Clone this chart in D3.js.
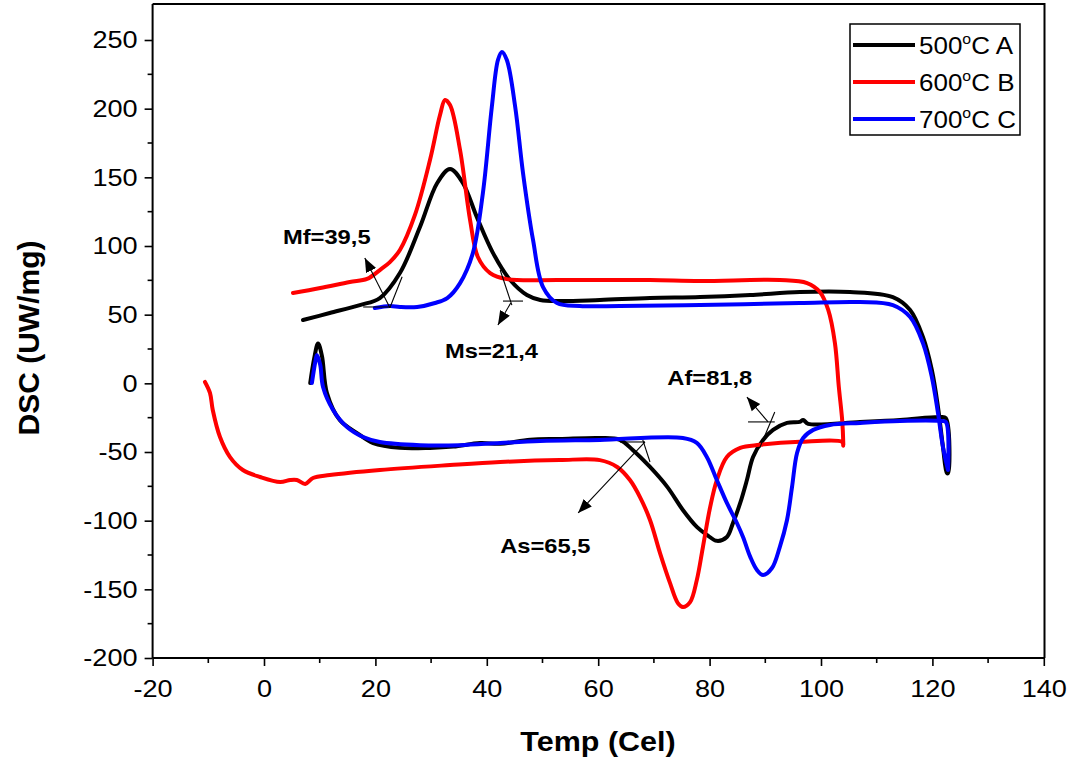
<!DOCTYPE html>
<html><head><meta charset="utf-8">
<script src="https://cdn.jsdelivr.net/npm/d3@7"></script>
<style>body{margin:0;background:#fff}svg{display:block}text{font-family:"Liberation Sans",Arial,sans-serif}</style>
</head><body>
<svg id="c" width="1076" height="767"></svg>
<script>
// ---- data: [Temp (Cel), DSC (UW/mg)] ----
const seriesNames = ["500", "600", "700"];
const seriesSuffix = ["A", "B", "C"];
const seriesColors = ["#000000", "#ff0000", "#0000ff"];

// 500°C A : heating branch (low temperature -> high)
const heat500 = [[8.3,0.2],[9.0,18],[9.7,29],[10.4,20],[11.3,-7.1],[13.6,-26.7],[16.7,-36.2],[19.6,-43.5],[24.4,-47],[29.8,-47],[34,-46],[38.8,-43.5],[42.4,-44],[47.8,-41],[53.1,-40.5],[60.3,-39.8],[63.9,-41.1],[66.2,-48.5],[69.3,-60.9],[72.4,-75.4],[75.2,-92.2],[77.7,-104.5],[79.5,-110.3],[81.3,-114.7],[83.1,-111.9],[84.2,-101.7],[85.5,-87.1],[86.7,-70.4],[87.8,-53.6],[89.6,-41.2],[91.4,-33.9],[93.9,-28.8],[96.2,-28.1],[96.8,-26.7],[97.7,-29.5],[107,-28.1],[114.2,-26.7],[121.4,-24.5],[122.4,-25.3],[122.8,-65.3]];
// 500°C A : cooling branch (listed low temperature -> high)
const cool500 = [[7,46.1],[11.8,51.2],[17.2,57],[20.8,62.1],[24.4,80.3],[28,113.8],[31.1,145.9],[33.4,156.1],[35.7,145.9],[38.2,121.2],[41.1,95],[44.2,75.2],[47.2,64.3],[49.6,60.7],[53.1,59.9],[60.3,60.7],[69.3,62.1],[78.3,62.8],[87.3,64.3],[96.2,66.5],[105.2,66.5],[112.9,62.8],[116,53.4],[118.3,33.7],[119.9,9.7],[121,-17.2],[121.9,-46.4],[122.6,-65.3]];

// 600°C B
const heat600 = [[-10.6,1],[-9.7,-7],[-9.2,-19.4],[-7.9,-39.1],[-6.1,-53.7],[-3.8,-63.1],[-0.7,-68.2],[2.9,-71.9],[4.7,-70.4],[5.9,-70.4],[7.4,-73.3],[8.8,-68.9],[11.8,-66.8],[20.8,-63.1],[33.4,-59.5],[42.4,-57.3],[53.1,-55.9],[60.3,-55.9],[63.4,-60.9],[65.7,-70.4],[67.5,-82.8],[69.3,-99.5],[71.1,-123.6],[72.9,-145.5],[74.3,-160],[75.2,-162.9],[76.5,-159.3],[77.7,-143.3],[78.8,-119.2],[80.1,-90.1],[81.3,-70.4],[83.1,-53.6],[85.5,-47],[89,-44.8],[96.2,-42.6],[103.8,-42.6],[104,-45.4]];
const cool600 = [[5.2,65.8],[10.1,69.4],[15.4,73.8],[18.5,76],[20.8,82.5],[22.6,88.3],[24.4,97.1],[27.1,122.6],[29.8,162.6],[31.6,195.4],[32.5,206.3],[33.4,202.7],[35.2,169.9],[37,118.9],[38.4,92],[40.6,80.3],[43.6,75.9],[53.1,75.2],[69.3,75.2],[78.3,74.5],[92.6,75.2],[97.5,73],[99.8,66.5],[101.3,53.4],[102.5,29.3],[103.2,-2.6],[103.8,-26.7],[104,-43.4]];

// 700°C C
const heat700 = [[8.6,0.2],[9.2,15.5],[9.5,20.6],[10.1,13.3],[10.6,-2.7],[12.4,-19.4],[14.9,-31.8],[17.8,-39.1],[20.8,-42.7],[28,-45],[35.2,-45],[42.4,-43.4],[49.6,-42],[60.3,-41.2],[75.2,-39.8],[77.7,-43.4],[79.5,-53.6],[81.3,-70.4],[83.1,-87.1],[84.9,-101.7],[86,-111.9],[87.3,-126.4],[88.5,-135.9],[89.6,-139.6],[91.2,-134.5],[92.6,-119.2],[93.9,-99.5],[94.8,-75.4],[95.7,-50.7],[96.8,-39.8],[98.6,-33.9],[101.6,-30.3],[107,-28.8],[114.2,-27.4],[121.4,-27.4],[122.4,-28.1],[122.8,-63.1]];
const cool700 = [[19.9,54.8],[22.6,56.3],[24.4,55.6],[27.5,55.6],[30.7,58.5],[32.9,62.1],[35.2,73],[37.5,94.9],[39.3,138.6],[40.9,201.2],[42,235.4],[42.7,241.3],[43.6,235.4],[45.1,201.2],[46.5,153.2],[48.3,104.4],[50.1,70.1],[52.6,58.5],[56.7,56.3],[63.9,56.3],[78.3,57],[96.2,58.5],[107,59.2],[112.9,57],[116,48.3],[118.3,29.3],[119.9,4.6],[121,-21.6],[121.9,-46.4],[122.8,-63.1]];

const heating = [heat500, heat600, heat700];
const cooling = [cool500, cool600, cool700];

// axis ticks
const xTicks = [-20, 0, 20, 40, 60, 80, 100, 120, 140];
const yTicks = [-200, -150, -100, -50, 0, 50, 100, 150, 200, 250];

// transformation-temperature annotations (data coordinates)
const annLabels = ["Mf=39,5", "Ms=21,4", "Af=81,8", "As=65,5"];
const annLabelPos = [[3.4, 101.5], [32.5, 18.4], [72.4, -1.2], [42.4, -123.6]];
const annArrows = [[[22.6,55],[18.1,91.2]], [[44.3,58.5],[42,42.5]], [[90.5,-28.1],[86.7,-10]], [[68.4,-42.7],[56.4,-94.4]]];
const annTangents = [[[22.6,55],[24.8,77.6]], [[42.4,82.5],[44.5,57]], [[91.7,-20.9],[89,-47]], [[68,-41.2],[69.3,-57.3]]];
const annBaselines = [[[17.8,55.6],[22.6,55.6]], [[42.9,59.9],[46.5,59.9]], [[86.9,-28.1],[91.7,-28.1]], [[63.9,-42.7],[68.4,-42.7]]];

// ---- drawing ----
const SX = 1.13; // horizontal stretch of the original lettering
const svg = d3.select("#c");
const L = 152.6, R = 1044.5, T = 4, B = 658;
const x = d3.scaleLinear().domain([-20, 140]).range([L, 1043.8]);
const y = d3.scaleLinear().domain([-200, 250]).range([B, 40]);
const fmt = d => d < 0 ? "-" + Math.abs(d) : String(d);

// frame top/right
svg.append("path").attr("d", `M${L},${T}H${R}V${B}`).attr("fill", "none").attr("stroke", "#000").attr("stroke-width", 2);

// axes
const xAxis = d3.axisBottom(x).tickValues(xTicks).tickSize(8).tickPadding(14).tickFormat(fmt);
const gx = svg.append("g").attr("transform", `translate(0,${B})`).call(xAxis);
const yAxis = d3.axisLeft(y).tickValues(yTicks).tickSize(8).tickPadding(7).tickFormat(fmt);
const gy = svg.append("g").attr("transform", `translate(${L},0)`).call(yAxis);
[gx, gy].forEach(g => {
  g.select(".domain").remove();
  g.selectAll(".tick line").attr("stroke", "#000").attr("stroke-width", 1.6);
  g.selectAll(".tick text").attr("font-size", 24).attr("fill", "#000").style("font-family", '"Liberation Sans",Arial,sans-serif')
    .attr("transform", `scale(${SX},1)`);
});
gy.selectAll(".tick text").attr("x", -15 / SX);
// minor ticks
const xMinor = d3.range(-10, 140, 20), yMinor = d3.range(-175, 250, 50);
svg.append("g").selectAll("line").data(xMinor).join("line")
  .attr("x1", d => x(d)).attr("x2", d => x(d)).attr("y1", B).attr("y2", B + 5).attr("stroke", "#000").attr("stroke-width", 1.6);
svg.append("g").selectAll("line").data(yMinor).join("line")
  .attr("y1", d => y(d)).attr("y2", d => y(d)).attr("x1", L).attr("x2", L - 5).attr("stroke", "#000").attr("stroke-width", 1.6);
// axis lines
svg.append("line").attr("x1", L).attr("x2", L).attr("y1", T).attr("y2", B).attr("stroke", "#000").attr("stroke-width", 2);
svg.append("line").attr("x1", L).attr("x2", R).attr("y1", B).attr("y2", B).attr("stroke", "#000").attr("stroke-width", 2);

// axis titles
svg.append("text").attr("transform", `translate(598,751) scale(${SX},1)`).attr("text-anchor", "middle").attr("font-size", 27).attr("font-weight", "bold").text("Temp (Cel)");
svg.append("text").attr("transform", "translate(39,338) rotate(-90)").attr("text-anchor", "middle").attr("font-size", 30).attr("font-weight", "bold").text("DSC (UW/mg)");

// curves
const line = d3.line().x(d => x(d[0])).y(d => y(d[1])).curve(d3.curveCatmullRom.alpha(0.5));
svg.append("clipPath").attr("id", "clp").append("rect").attr("x", L).attr("y", T).attr("width", R - L).attr("height", B - T);
seriesNames.forEach((s, i) => {
  const pts = heating[i].concat(cooling[i].slice().reverse());
  svg.append("path").attr("d", line(pts)).attr("fill", "none").attr("stroke", seriesColors[i])
    .attr("stroke-width", 4).attr("stroke-linejoin", "round").attr("stroke-linecap", "round").attr("clip-path", "url(#clp)");
});

// annotations
const defs = svg.append("defs");
defs.append("marker").attr("id", "ah").attr("viewBox", "0 0 10 10").attr("refX", 10).attr("refY", 5)
  .attr("markerWidth", 14).attr("markerHeight", 14).attr("markerUnits", "userSpaceOnUse").attr("orient", "auto")
  .append("path").attr("d", "M0,1 L10,5 L0,9 z").attr("fill", "#000");
const ag = svg.append("g").attr("stroke", "#000").attr("stroke-width", 1.1);
const seg = (g, p, arrow) => g.append("line").attr("x1", x(p[0][0])).attr("y1", y(p[0][1])).attr("x2", x(p[1][0])).attr("y2", y(p[1][1])).attr("marker-end", arrow ? "url(#ah)" : null);
annLabels.forEach((t, i) => {
  seg(ag, annBaselines[i], false);
  seg(ag, annTangents[i], false);
  seg(ag, annArrows[i], true);
  svg.append("text").attr("transform", `translate(${x(annLabelPos[i][0])},${y(annLabelPos[i][1])}) scale(${SX},1)`)
    .attr("font-size", 21).attr("font-weight", "bold").text(t);
});

// legend
const lg = svg.append("g");
lg.append("rect").attr("x", 850).attr("y", 24).attr("width", 170).attr("height", 111).attr("fill", "#fff").attr("stroke", "#000").attr("stroke-width", 1.5);
seriesNames.forEach((s, i) => {
  const cy = 45 + i * 37;
  lg.append("line").attr("x1", 853).attr("x2", 915).attr("y1", cy).attr("y2", cy).attr("stroke", seriesColors[i]).attr("stroke-width", 4);
  const t = lg.append("text").attr("transform", `translate(919,${cy + 8.5}) scale(${SX},1)`).attr("font-size", 23);
  t.append("tspan").text(s);
  t.append("tspan").attr("font-size", 14).attr("dy", -10).text("o");
  t.append("tspan").attr("dy", 10).text("C " + seriesSuffix[i]);
});
</script>
</body></html>
